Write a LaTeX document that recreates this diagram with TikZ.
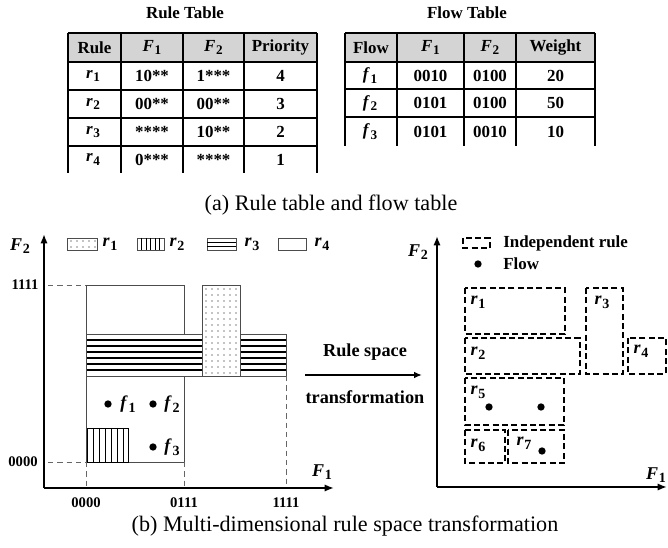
\documentclass[tikz,border=0pt]{standalone}
\usepackage{fontspec}
\setmainfont{Liberation Serif}
\usetikzlibrary{arrows.meta}
\newcommand{\vb}[2]{\textbf{\textit{#1}}\kern0.5pt\raisebox{-0.45ex}{\scalebox{0.78}{\bfseries #2}}}

\begin{document}
\begin{tikzpicture}[x=0.75pt,y=-0.75pt,
  cell/.style={font=\fontsize{12.7}{14}\selectfont\bfseries, inner sep=0pt},
  ticklab/.style={font=\fontsize{11}{13}\selectfont\bfseries, inner sep=0pt},
  flab/.style={font=\fontsize{13.5}{15}\selectfont\bfseries, inner sep=0pt},
  bigtext/.style={font=\fontsize{13.7}{15}\selectfont\bfseries, inner sep=0pt},
  captext/.style={font=\fontsize{16.6}{19}\selectfont, inner sep=0pt},
  axis/.style={line width=1.6pt, -{Latex[length=7pt,width=5.5pt]}},
  rulegrid/.style={line width=0.8pt},
  boxedge/.style={draw=black!70, line width=0.7pt},
  guide/.style={draw=black!60, line width=0.6pt, dash pattern=on 4pt off 3pt},
  indep/.style={draw=black, line width=0.9pt, dash pattern=on 4.5pt off 2.5pt},
  flowdot/.style={circle, fill=black, inner sep=0pt, minimum size=5.5pt}
]
\useasboundingbox (0,0) rectangle (668,548);

% ---- rule table
\node[cell] (ruletitle) at (185,13) {Rule Table};
\fill[black!17] (68,33) rectangle (317,62);
\foreach \y in {33,62,90,118,146} \draw[rulegrid] (68,\y) -- (317,\y);
\foreach \x in {68,121,183,244,317} \draw[rulegrid] (\x,33) -- (\x,173);
\foreach \t/\x [count=\c] in {Rule/94.5, {\vb{F}{1}}/152, {\vb{F}{2}}/213.5, Priority/280.5}
  \node[cell] (rh\c) at (\x,47.5) {\t};
\foreach \n/\a/\b/\p/\y in {1/10**/1***/4/76, 2/00**/00**/3/104, 3/****/10**/2/132, 4/0***/****/1/159.5}{
  \node[cell] (rule\n) at (93,\y) {\vb{r}{\n}};
  \node[cell] (rule\n-f1) at (152,\y) {\a};
  \node[cell] (rule\n-f2) at (213.5,\y) {\b};
  \node[cell] (rule\n-p) at (280.5,\y) {\p};
}

% ---- flow table
\node[cell] (flowtitle) at (467,13) {Flow Table};
\fill[black!17] (345,33) rectangle (595,62);
\foreach \y in {33,62,89,117} \draw[rulegrid] (345,\y) -- (595,\y);
\foreach \x in {345,397,464,516,595} \draw[rulegrid] (\x,33) -- (\x,146);
\foreach \t/\x [count=\c] in {Flow/371, {\vb{F}{1}}/430.5, {\vb{F}{2}}/490, Weight/555.5}
  \node[cell] (fh\c) at (\x,47.5) {\t};
\foreach \n/\a/\b/\w/\y in {1/0010/0100/20/75.5, 2/0101/0100/50/103, 3/0101/0010/10/131.5}{
  \node[cell] (flow\n) at (370,\y) {\vb{f}{\n}};
  \node[cell] (flow\n-f1) at (430.5,\y) {\a};
  \node[cell] (flow\n-f2) at (490,\y) {\b};
  \node[cell] (flow\n-w) at (555.5,\y) {\w};
}

\node[captext] (capa) at (331,205) {(a) Rule table and flow table};

% ---- left: rule space
\coordinate (lo) at (44,488);
\coordinate (ltop) at (44,234);
\coordinate (lright) at (334,488);
\node[flab] (lF2) at (20,246) {\vb{F}{2}};
\node[flab] (lF1) at (322,472) {\vb{F}{1}};

% legend
\draw[boxedge] (67,238) rectangle (97,250);
\foreach \x in {71,77,...,95} \foreach \y in {241,247} \fill (\x,\y) circle[radius=0.45pt];
\node[flab] (lg1) at (110,244) {\vb{r}{1}};
\draw[boxedge] (137,238) rectangle (164,250);
\foreach \x in {141.5,146,...,160} \draw[line width=0.6pt] (\x,238) -- (\x,250);
\node[flab] (lg2) at (177,244) {\vb{r}{2}};
\draw[boxedge] (207,238) rectangle (236,250);
\foreach \y in {242,246} \draw[line width=0.6pt] (207,\y) -- (236,\y);
\node[flab] (lg3) at (252,244) {\vb{r}{3}};
\draw[boxedge] (278,238) rectangle (306,250);
\node[flab] (lg4) at (322,244) {\vb{r}{4}};

% r4
\draw[boxedge] (86,285) rectangle (184,462);
% r3
\fill[white] (86,334) rectangle (286,376);
\foreach \y in {340,346,...,370} \draw[rulegrid] (86,\y) -- (286,\y);
\draw[boxedge] (86,334) rectangle (286,376);
% r1
\filldraw[fill=white, boxedge] (202,285) rectangle (240,376);
\foreach \x in {206,212,...,236} \foreach \y in {289,295,...,373} \fill (\x,\y) circle[radius=0.45pt];
% r2
\filldraw[fill=white, draw=black, line width=0.7pt] (87,428) rectangle (128,462);
\foreach \x in {93,99,...,123} \draw[line width=0.7pt] (\x,428) -- (\x,462);

% guides
\draw[guide] (48,285) -- (86,285);
\draw[guide] (48,462) -- (86,462);
\draw[guide] (86,462) -- (86,488);
\draw[guide] (184,462) -- (184,488);
\draw[guide] (286,376) -- (286,488);
\node[ticklab] (y1111) at (25,285) {1111};
\node[ticklab] (y0000) at (23,462) {0000};
\node[ticklab] (x0000) at (86,503) {0000};
\node[ticklab] (x0111) at (184,503) {0111};
\node[ticklab] (x1111) at (286,503) {1111};

\draw[axis] (lo) -- (ltop);
\draw[axis] (lo) -- (lright);

% flows
\node[flowdot] (fd1) at (108,404) {};
\node[flab] (fl1) at (128,404) {\vb{f}{1}};
\node[flowdot] (fd2) at (153,404) {};
\node[flab] (fl2) at (172,404) {\vb{f}{2}};
\node[flowdot] (fd3) at (153,447) {};
\node[flab] (fl3) at (172,447) {\vb{f}{3}};

% ---- transformation
\coordinate (ta) at (305,375);
\coordinate (tb) at (422,375);
\draw[line width=1.3pt, -{Latex[length=6pt,width=5pt]}] (ta) -- (tb);
\node[bigtext] (tr1) at (365,352) {Rule space};
\node[bigtext] (tr2) at (365,397) {transformation};

% ---- right: independent rules
\coordinate (ro) at (437,487);
\coordinate (rtop) at (437,236);
\coordinate (rright) at (667,487);
\node[flab] (rF2) at (418,252) {\vb{F}{2}};
\node[flab] (rF1) at (656,475) {\vb{F}{1}};
\draw[axis] (ro) -- (rtop);
\draw[axis] (ro) -- (rright);

\draw[indep] (463,238) rectangle (490,248);
\node[cell, anchor=west] (lgind) at (503,243) {Independent rule};
\node[flowdot] (lgdot) at (478,264) {};
\node[cell, anchor=west] (lgflow) at (503,264) {Flow};

\draw[indep] (465,288) rectangle (565,334);
\node[flab] (ir1) at (478,302) {\vb{r}{1}};
\draw[indep] (586,288) rectangle (623,374);
\node[flab] (ir3) at (602,302) {\vb{r}{3}};
\draw[indep] (465,338) rectangle (580,374);
\node[flab] (ir2) at (478,353) {\vb{r}{2}};
\draw[indep] (628,338) rectangle (666,374);
\node[flab] (ir4) at (641,351) {\vb{r}{4}};
\draw[indep] (465,378) rectangle (564,425);
\node[flab] (ir5) at (478,392) {\vb{r}{5}};
\node[flowdot] (id1) at (489,407) {};
\node[flowdot] (id2) at (541,407) {};
\draw[indep] (465,430) rectangle (505,463);
\node[flab] (ir6) at (478,445) {\vb{r}{6}};
\draw[indep] (508,430) rectangle (564,463);
\node[flab] (ir7) at (524,443) {\vb{r}{7}};
\node[flowdot] (id3) at (542,451) {};

\node[captext] (capb) at (345,526) {(b) Multi-dimensional rule space transformation};
\end{tikzpicture}
\end{document}
